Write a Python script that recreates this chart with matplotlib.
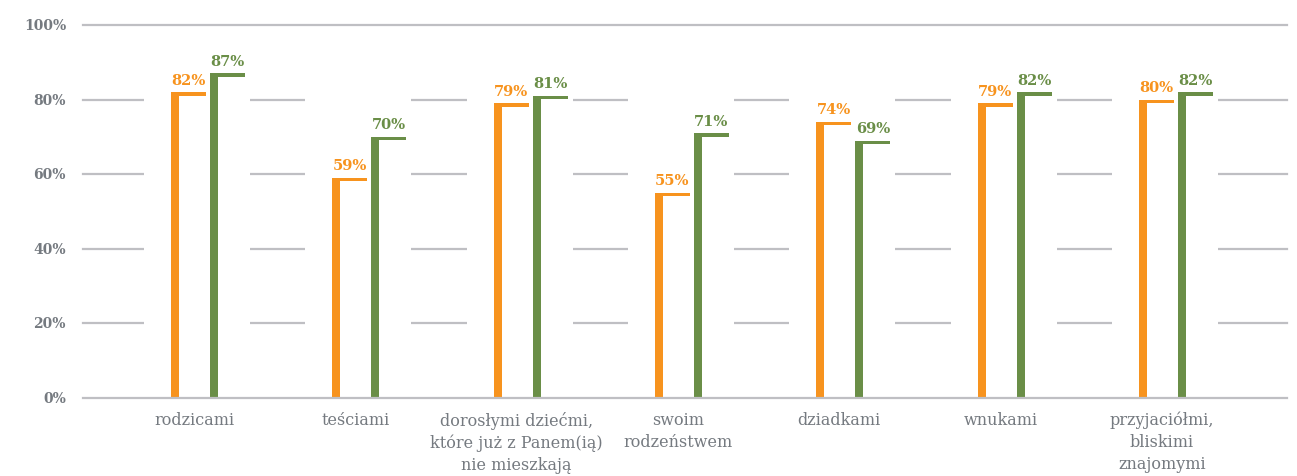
import matplotlib
matplotlib.use("Agg")
import matplotlib.pyplot as plt
import matplotlib.transforms as mtransforms
import numpy as np

categories = ["rodzicami", "teściami", "dorosłymi dziećmi,\nktóre już z Panem(ią)\nnie mieszkają",
              "swoim\nrodzeństwem", "dziadkami", "wnukami", "przyjaciółmi,\nbliskimi\nznajomymi"]
series_orange = [82, 59, 79, 55, 74, 79, 80]
series_green = [87, 70, 81, 71, 69, 82, 82]
yticks = [0, 20, 40, 60, 80, 100]
ytick_labels = ["0%", "20%", "40%", "60%", "80%", "100%"]

ORANGE = "#F7931E"
GREEN = "#6A8E47"
GRID = "#BFBFC3"
TXT = "#757A80"

W, H = 1297, 477
fig = plt.figure(figsize=(W / 100, H / 100), dpi=100)
ax = fig.add_axes([83 / W, (H - 399) / H, (1287 - 83) / W, (399 - 26) / H])

unit = 161.33  # px per category
x = np.arange(len(categories))
ypx = (399 - 26) / 100.0  # px per percent

ax.set_xlim(-(194 - 83) / unit, (1287 - 194) / unit)
ax.set_ylim(0, 100)

# gridlines
for t in yticks:
    z = 4 if t in (0, 100) else 1
    ax.axhline(t, color=GRID, lw=1.6, zorder=z, clip_on=False)

# white gaps in gridlines around each category
ax.bar(x + 3 / unit, 96, bottom=2, width=106 / unit, color="white", zorder=2)

bw = 35 / unit
vw = 8 / unit
th = 3.4 / ypx
o_left = x - 23 / unit
g_left = x + 16 / unit

for left, vals, col in ((o_left, series_orange, ORANGE), (g_left, series_green, GREEN)):
    vals = np.array(vals, dtype=float)
    ax.bar(left, vals, width=vw, align="edge", color=col, zorder=3, linewidth=0)
    ax.bar(left, th, bottom=vals - th, width=bw, align="edge", color=col, zorder=3, linewidth=0)
    for xl, v in zip(left, vals):
        ax.annotate(f"{int(v)}%", (xl + bw / 2, v), xytext=(0, 4), textcoords="offset points",
                    ha="center", va="bottom", color=col, fontsize=10.5, fontweight="bold",
                    family="DejaVu Serif", zorder=5)

# y tick labels (right-aligned at x=66px)
trans = mtransforms.blended_transform_factory(fig.transFigure, ax.transData)
for t, lab in zip(yticks, ytick_labels):
    ax.text(66 / W, t, lab, transform=trans, ha="right", va="center", color=TXT,
            fontsize=10, fontweight="bold", family="DejaVu Serif", clip_on=False)

# category labels
transx = mtransforms.blended_transform_factory(ax.transData, fig.transFigure)
for xi, lab in zip(x, categories):
    ax.text(xi, (H - 412) / H, lab, transform=transx, ha="center", va="top", color=TXT,
            fontsize=11.5, family="DejaVu Serif", linespacing=1.35, clip_on=False)

ax.axis("off")
fig.savefig("out.png", dpi=100, facecolor="white")
